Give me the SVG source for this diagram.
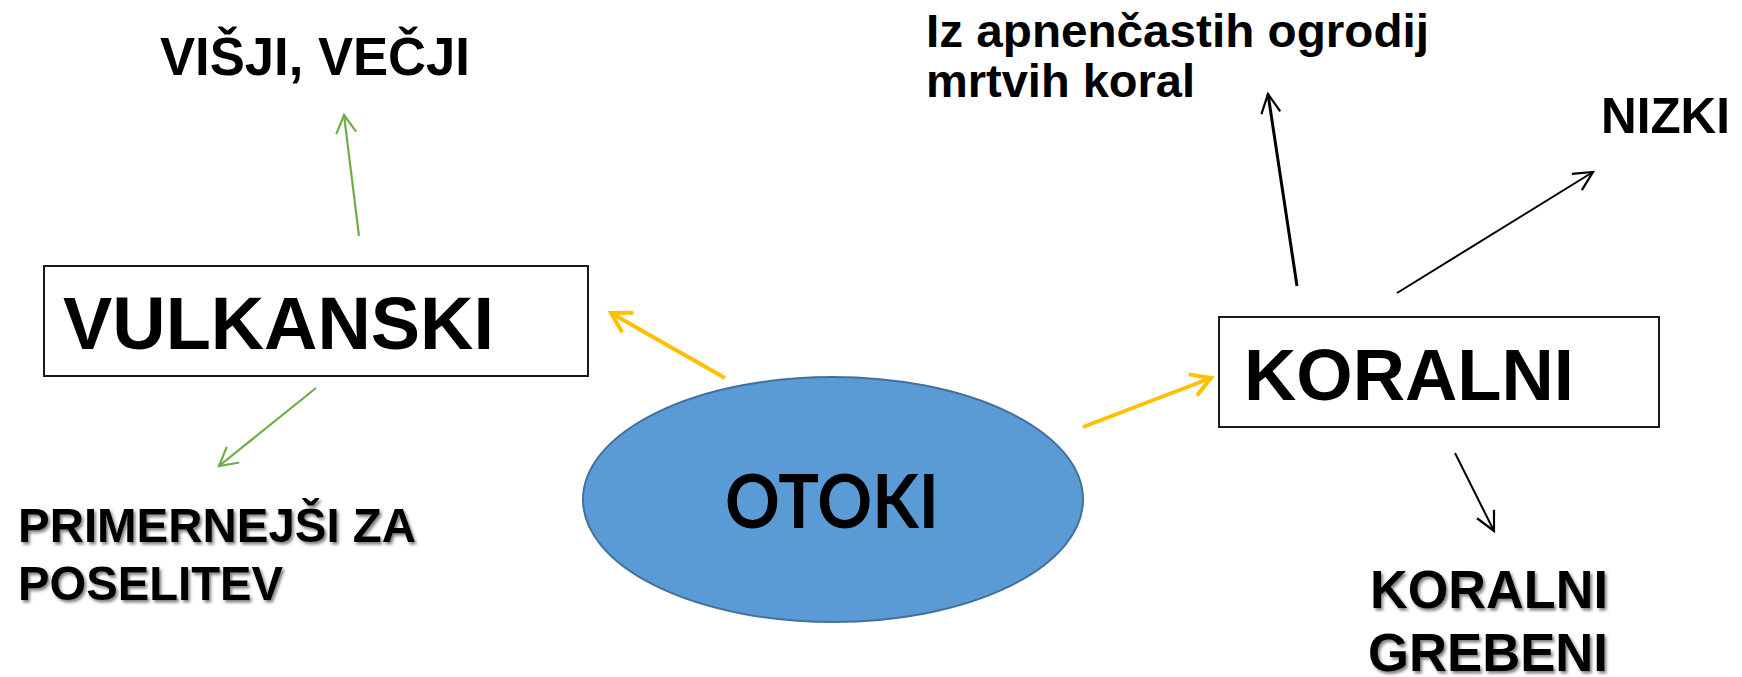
<svg xmlns="http://www.w3.org/2000/svg" width="1742" height="677" viewBox="0 0 1742 677">
<style>
.t{font-family:"Liberation Sans",Arial,sans-serif;font-weight:bold;fill:#000}
.box{fill:#fff;stroke:#1a1a1a;stroke-width:2}
.g{stroke:#70AD47;stroke-width:2.2;fill:none}
.y{stroke:#FFC000;stroke-width:4;fill:none}
.k{stroke:#000;fill:none}
</style>
<defs>
<filter id="sh" x="-5%" y="-20%" width="110%" height="150%">
<feDropShadow dx="2" dy="2.5" stdDeviation="1.6" flood-color="#404040" flood-opacity="0.65"/>
</filter>
<marker id="mg" markerUnits="userSpaceOnUse" viewBox="-22 -12 26 24" markerWidth="26" markerHeight="24" refX="0" refY="0" orient="auto">
<path d="M-18,-10 L0,0 L-18,10" fill="none" stroke="#70AD47" stroke-width="2.2"/>
</marker>
<marker id="my" markerUnits="userSpaceOnUse" viewBox="-24 -14 30 28" markerWidth="30" markerHeight="28" refX="0" refY="0" orient="auto">
<path d="M-18,-10.5 L0,0 L-18,10.5" fill="none" stroke="#FFC000" stroke-width="4" stroke-linecap="round"/>
</marker>
<marker id="mk" markerUnits="userSpaceOnUse" viewBox="-24 -14 30 28" markerWidth="30" markerHeight="28" refX="0" refY="0" orient="auto">
<path d="M-19,-9.5 L0,0 L-19,9.5" fill="none" stroke="#000" stroke-width="2.2"/>
</marker>
</defs>
<rect width="1742" height="677" fill="#fff"/>
<g id="connectors">
<line class="g" x1="359" y1="236" x2="344" y2="115" marker-end="url(#mg)"/>
<line class="g" x1="316" y1="388" x2="219" y2="466" marker-end="url(#mg)"/>
<line class="y" x1="725" y1="378" x2="611" y2="313" marker-end="url(#my)"/>
<line class="y" x1="1083" y1="427" x2="1211" y2="378" marker-end="url(#my)"/>
<line class="k" stroke-width="3" x1="1297" y1="286" x2="1268" y2="94" marker-end="url(#mk)"/>
<line class="k" stroke-width="2" x1="1397" y1="293" x2="1593" y2="172" marker-end="url(#mk)"/>
<line class="k" stroke-width="2" x1="1455" y1="453" x2="1494" y2="531" marker-end="url(#mk)"/>
</g>
<g id="otoki">
<ellipse cx="833" cy="499.5" rx="250" ry="122.5" fill="#5B9BD5" stroke="#41719C" stroke-width="2"/>
<text x="725" y="528" font-family="Lato,'Open Sans',sans-serif" font-weight="bold" font-size="75" textLength="214" lengthAdjust="spacingAndGlyphs" fill="#000">OTOKI</text>
</g>
<g id="vulkanski">
<rect class="box" x="44" y="266" width="544" height="110"/>
<text class="t" x="63" y="349" font-size="75" textLength="431" lengthAdjust="spacingAndGlyphs">VULKANSKI</text>
</g>
<g id="koralni">
<rect class="box" x="1219" y="317" width="440" height="110"/>
<text class="t" x="1244" y="400" font-size="73" textLength="330" lengthAdjust="spacingAndGlyphs">KORALNI</text>
</g>
<g id="visji">
<text class="t" x="160" y="75" font-size="54" textLength="310" lengthAdjust="spacingAndGlyphs">VIŠJI, VEČJI</text>
</g>
<g id="primernejsi" filter="url(#sh)">
<text class="t" x="18" y="542" font-size="48" textLength="398" lengthAdjust="spacingAndGlyphs">PRIMERNEJŠI ZA</text>
<text class="t" x="18" y="600" font-size="48" textLength="265" lengthAdjust="spacingAndGlyphs">POSELITEV</text>
</g>
<g id="apnencastih">
<text class="t" x="926" y="47" font-size="47" textLength="503" lengthAdjust="spacingAndGlyphs">Iz apnenčastih ogrodij</text>
<text class="t" x="926" y="97" font-size="47" textLength="269" lengthAdjust="spacingAndGlyphs">mrtvih koral</text>
</g>
<g id="nizki">
<text class="t" x="1601" y="133" font-size="50" textLength="129" lengthAdjust="spacingAndGlyphs">NIZKI</text>
</g>
<g id="grebeni" filter="url(#sh)">
<text class="t" x="1370" y="608" font-size="53" textLength="238" lengthAdjust="spacingAndGlyphs">KORALNI</text>
<text class="t" x="1368" y="671" font-size="53" textLength="240" lengthAdjust="spacingAndGlyphs">GREBENI</text>
</g>
</svg>
